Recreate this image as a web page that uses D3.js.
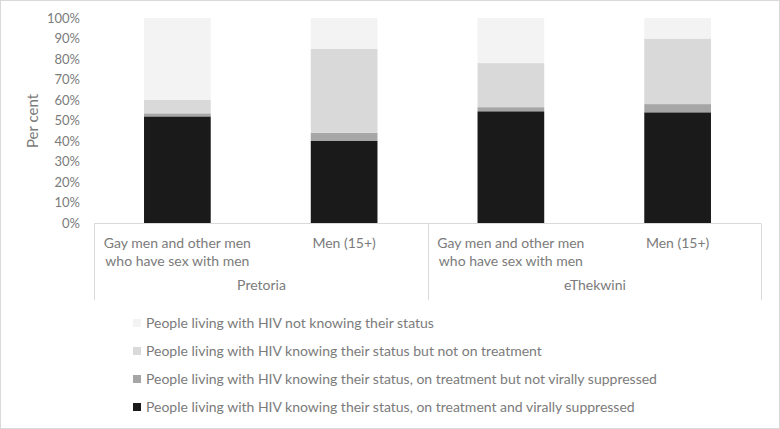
<!DOCTYPE html>
<html lang="en">
<head>
  <meta charset="UTF-8">
  <title>HIV cascade among men, Pretoria and eThekwini</title>
  <style>
    body {
      margin: 0;
      background: #fff;
      font-family: Lato, "Open Sans", sans-serif;
    }
    text {
      fill: #7b7b7b;
    }
  </style>
</head>
<body>
  <script src="https://d3js.org/d3.v7.min.js"></script>
  <script>
    // categories (city / population)
    const cities = ['Pretoria', 'eThekwini'];
    const groups = ['msm', 'men'];
    const groupLabels = {
      msm: ['Gay men and other men', 'who have sex with men'],
      men: ['Men (15+)']
    };

    // series, bottom to top, values in per cent
    const suppressed    = [52, 40, 54.5, 54];
    const notSuppressed = [1.5, 4, 2, 4];
    const notOnTreat    = [6.5, 41, 21.5, 32];
    const notKnowing    = [40, 15, 22, 10];

    const seriesNames = [
      'People living with HIV knowing their status, on treatment and virally suppressed',
      'People living with HIV knowing their status, on treatment but not virally suppressed',
      'People living with HIV knowing their status but not on treatment',
      'People living with HIV not knowing their status'
    ];
    const seriesColors = ['#1a1a1a', '#a6a6a6', '#d9d9d9', '#f3f3f3'];
    const yTicks = [0, 10, 20, 30, 40, 50, 60, 70, 80, 90, 100];

    const width = 780, height = 429;
    const svg = d3.select('body').append('svg')
      .attr('width', width)
      .attr('height', height);

    svg.append('rect')
      .attr('x', 0.5).attr('y', 0.5)
      .attr('width', width - 1).attr('height', height - 1)
      .attr('fill', '#fff')
      .attr('stroke', '#d9d9d9');

    const rows = [];
    cities.forEach((c, i) => groups.forEach((g, j) => {
      const k = i * 2 + j;
      rows.push({
        key: c + '|' + g, city: c, group: g,
        s0: suppressed[k], s1: notSuppressed[k], s2: notOnTreat[k], s3: notKnowing[k]
      });
    }));

    const x = d3.scaleBand()
      .domain(rows.map(d => d.key))
      .range([94, 761])
      .paddingInner(0.6)
      .paddingOuter(0.3);

    const y = d3.scaleLinear().domain([0, 100]).range([223, 18]);

    const stack = d3.stack().keys(['s0', 's1', 's2', 's3']);
    const layers = stack(rows);

    svg.append('g')
      .selectAll('g')
      .data(layers)
      .join('g')
      .attr('fill', (d, i) => seriesColors[i])
      .selectAll('rect')
      .data(d => d)
      .join('rect')
      .attr('x', d => x(d.data.key))
      .attr('width', x.bandwidth())
      .attr('y', d => y(d[1]))
      .attr('height', d => y(d[0]) - y(d[1]));

    // y axis
    const yAxis = svg.append('g')
      .attr('transform', 'translate(84,0)')
      .call(d3.axisLeft(y).tickValues(yTicks).tickSize(0).tickFormat(d => d + '%'));
    yAxis.select('.domain').remove();
    yAxis.selectAll('text')
      .attr('x', -4)
      .style('font-size', '13px')
      .style('font-family', 'Lato, sans-serif');

    svg.append('text')
      .attr('transform', 'translate(38,121) rotate(-90)')
      .attr('text-anchor', 'middle')
      .style('font-size', '15px')
      .text('Per cent');

    // multi-level category axis
    const axisY = 223.5, axisBottom = 300;
    svg.append('line')
      .attr('x1', 94).attr('x2', 761)
      .attr('y1', axisY).attr('y2', axisY)
      .attr('stroke', '#d9d9d9');

    const step = x.step();
    const cityEdges = [94, 94 + 2 * step, 94 + 4 * step].map(v => Math.round(v) + 0.5);
    cityEdges.forEach(v => {
      svg.append('line')
        .attr('x1', v).attr('x2', v)
        .attr('y1', axisY).attr('y2', axisBottom)
        .attr('stroke', '#d9d9d9');
    });

    rows.forEach(d => {
      const cx = x(d.key) + x.bandwidth() / 2;
      const t = svg.append('text')
        .attr('text-anchor', 'middle')
        .style('font-size', '14px');
      groupLabels[d.group].forEach((line, i) => {
        t.append('tspan').attr('x', cx).attr('y', 248 + i * 18).text(line);
      });
    });

    cities.forEach((c, i) => {
      svg.append('text')
        .attr('x', (cityEdges[i] + cityEdges[i + 1]) / 2)
        .attr('y', 290)
        .attr('text-anchor', 'middle')
        .style('font-size', '14px')
        .text(c);
    });

    // legend, top entry is the top series
    const legend = svg.append('g');
    const legendOrder = [3, 2, 1, 0];
    legendOrder.forEach((s, i) => {
      const ly = 323 + i * 28;
      legend.append('rect')
        .attr('x', 133).attr('y', ly - 4)
        .attr('width', 8).attr('height', 8)
        .attr('fill', seriesColors[s]);
      legend.append('text')
        .attr('x', 146).attr('y', ly + 5)
        .style('font-size', '14px')
        .text(seriesNames[s]);
    });
  </script>
</body>
</html>
